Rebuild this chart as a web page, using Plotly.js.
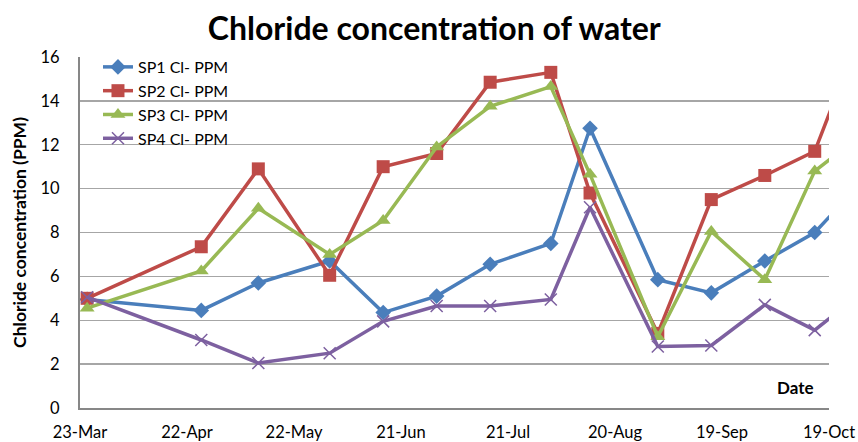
<!DOCTYPE html>
<html>
<head>
<meta charset="utf-8">
<script src="https://cdn.plot.ly/plotly-3.0.1.min.js"></script>
<style>html,body{margin:0;padding:0;background:#fff;}#chart{width:858px;height:442px;}</style>
</head>
<body>
<div id="chart"></div>
<script>
const dates = ['2013-03-25','2013-04-26','2013-05-12','2013-06-01','2013-06-16','2013-07-01','2013-07-16','2013-08-02','2013-08-13','2013-09-01','2013-09-16','2013-10-01','2013-10-15','2013-10-30'];
const sp1 = [4.95, 4.45, 5.7, 6.7, 4.35, 5.1, 6.55, 7.5, 12.75, 5.85, 5.25, 6.7, 8.0, 10.6];
const sp2 = [5.0, 7.35, 10.9, 6.05, 11.0, 11.6, 14.85, 15.3, 9.8, 3.4, 9.5, 10.6, 11.7, 18.0];
const sp3 = [4.55, 6.25, 9.1, 7.0, 8.55, 11.9, 13.75, 14.65, 10.65, 3.25, 8.05, 5.85, 10.8, 12.7];
const sp4 = [5.05, 3.1, 2.05, 2.5, 3.95, 4.65, 4.65, 4.95, 9.15, 2.8, 2.85, 4.7, 3.55, 5.5];
const seriesNames = ['SP1 Cl- PPM','SP2 Cl- PPM','SP3 Cl- PPM','SP4 Cl- PPM'];
const yTicks = [0,2,4,6,8,10,12,14,16];

const F = 'Lato, "Open Sans", sans-serif';
const colors = ['#4A7EBB','#BE4B48','#98B954','#7D60A0'];
const symbols = ['diamond','square','triangle-up','x-thin'];
const sizes = [12,13,13,12];
const data = [sp1,sp2,sp3,sp4].map((ys,i)=>({
  type:'scatter', mode:'lines+markers', name:seriesNames[i],
  x:dates, y:ys,
  line:{color:colors[i], width:3.5},
  marker: i===3 ? {symbol:symbols[i], size:sizes[i], color:colors[i], line:{color:colors[i], width:1.5}}
                : {symbol:symbols[i], size:sizes[i], color:colors[i]}
}));

const layout = {
  width:858, height:442,
  margin:{l:80, r:29, t:57, b:34},
  paper_bgcolor:'#fff', plot_bgcolor:'#fff',
  font:{family:F, size:15, color:'#000'},
  title:{text:'<b>Chloride concentration of water</b>', font:{family:F, size:32, color:'#000'}, x:0.473, xanchor:'center', y:0.935, yanchor:'middle', xref:'paper'},
  showlegend:true,
  legend:{x:0.024, y:1.02, xanchor:'left', yanchor:'top', bgcolor:'rgba(0,0,0,0)', font:{family:F, size:16, color:'#000'}, tracegroupgap:0},
  xaxis:{
    type:'date', range:['2013-03-23','2013-10-19'],
    tick0:'2013-03-23', dtick:30*86400000, tickformat:'%d-%b',
    showgrid:false, zeroline:false,
    showline:true, linecolor:'#878787', linewidth:2,
    ticks:'', ticklabelstandoff:8, tickfont:{family:F, size:16.5, color:'#000'}
  },
  yaxis:{
    range:[0,16], tickvals:yTicks, ticktext:yTicks.map(String),
    showgrid:true, gridcolor:'#A6A6A6', gridwidth:1.3, zeroline:false,
    showline:true, linecolor:'#878787', linewidth:2,
    ticks:'', ticklabelstandoff:15, tickfont:{family:F, size:16.5, color:'#000'},
    title:{text:'<b>Chloride concentration (PPM)</b>', font:{family:F, size:17.5, color:'#000'}, standoff:9}
  },
  annotations:[
    {text:'<b>Date</b>', xref:'paper', yref:'paper', x:0.955, y:0.058, xanchor:'center', yanchor:'middle', showarrow:false, font:{family:F, size:17, color:'#000'}}
  ]
};
Plotly.newPlot('chart', data, layout, {displayModeBar:false, staticPlot:true});
</script>
</body>
</html>
